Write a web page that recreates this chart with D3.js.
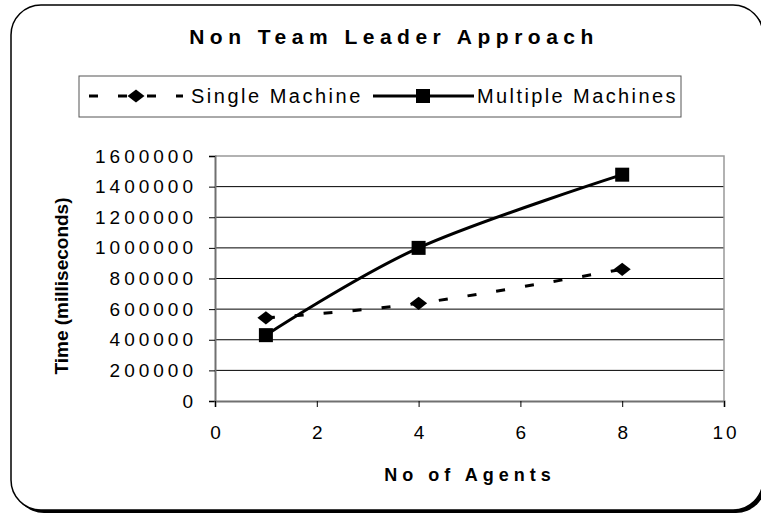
<!DOCTYPE html>
<html>
<head>
    <title>Non Team Leader Approach</title>
    <script src="https://d3js.org/d3.v7.min.js"></script>
    <style>
        body { margin: 0; background: #fff; }
        text { font-family: "Liberation Sans", Arial, sans-serif; fill: #000; }
    </style>
</head>
<body>
    <svg id="chart" width="761" height="517"></svg>

    <script>
        // data
        const agents = [1, 4, 8];
        const singleMachine = [543000, 638000, 860000];
        const multipleMachines = [430000, 1000000, 1478000];
        const xTicks = [0, 2, 4, 6, 8, 10];
        const yTicks = [0, 200000, 400000, 600000, 800000, 1000000, 1200000, 1400000, 1600000];

        const svg = d3.select('#chart');

        // frame with shadow
        svg.append('rect')
            .attr('x', 14).attr('y', 8)
            .attr('width', 752).attr('height', 505)
            .attr('rx', 30).attr('ry', 30)
            .attr('fill', '#000');
        svg.append('rect')
            .attr('x', 11).attr('y', 5)
            .attr('width', 752).attr('height', 505)
            .attr('rx', 30).attr('ry', 30)
            .attr('fill', '#fff')
            .attr('stroke', '#000')
            .attr('stroke-width', 1.5);

        const margin = { left: 215, right: 724, top: 156, bottom: 401 };

        const x = d3.scaleLinear().domain([0, 10]).range([margin.left, margin.right]);
        const y = d3.scaleLinear().domain([0, 1600000]).range([margin.bottom, margin.top]);

        // gridlines
        svg.append('g')
            .selectAll('line')
            .data(yTicks.slice(1, -1))
            .enter()
            .append('line')
            .attr('x1', margin.left).attr('x2', margin.right)
            .attr('y1', d => y(d)).attr('y2', d => y(d))
            .attr('stroke', '#000')
            .attr('stroke-width', 1);

        // plot border (top and right)
        svg.append('path')
            .attr('d', `M${margin.left},${margin.top}H${margin.right}V${margin.bottom}`)
            .attr('fill', 'none')
            .attr('stroke', '#999')
            .attr('stroke-width', 1.5);

        // axes
        const yAxis = svg.append('g')
            .attr('transform', `translate(${margin.left},0)`)
            .call(d3.axisLeft(y).tickValues(yTicks).tickSize(6).tickPadding(12).tickFormat(d3.format('d')));
        const xAxis = svg.append('g')
            .attr('transform', `translate(0,${margin.bottom})`)
            .call(d3.axisBottom(x).tickValues(xTicks).tickSize(6).tickPadding(19));

        [yAxis, xAxis].forEach(g => {
            g.select('.domain').attr('stroke', '#707070').attr('stroke-width', 2);
            g.selectAll('.tick line').attr('stroke', '#000');
            g.selectAll('.tick text')
                .style('font-family', '"Liberation Sans", Arial, sans-serif')
                .style('font-size', '19px')
                .attr('fill', '#000');
        });
        yAxis.selectAll('.tick text').style('letter-spacing', '4px');
        xAxis.selectAll('.tick text').style('letter-spacing', '3px').attr('dx', '1.5');

        // series
        const lineGen = d3.line()
            .x(d => x(d[0]))
            .y(d => y(d[1]))
            .curve(d3.curveCardinal.tension(0));

        const singleData = agents.map((a, i) => [a, singleMachine[i]]);
        const multiData = agents.map((a, i) => [a, multipleMachines[i]]);

        svg.append('path')
            .datum(singleData)
            .attr('d', lineGen)
            .attr('fill', 'none')
            .attr('stroke', '#000')
            .attr('stroke-width', 3)
            .attr('stroke-dasharray', '9,20');

        svg.append('path')
            .datum(multiData)
            .attr('d', lineGen)
            .attr('fill', 'none')
            .attr('stroke', '#000')
            .attr('stroke-width', 3);

        const diamond = d3.symbol().type(d3.symbolSquare).size(120);
        svg.selectAll('.diamond')
            .data(singleData)
            .enter()
            .append('path')
            .attr('class', 'diamond')
            .attr('d', diamond)
            .attr('transform', d => `translate(${x(d[0])},${y(d[1])}) scale(1.1,0.85) rotate(45)`)
            .attr('fill', '#000');

        svg.selectAll('.square')
            .data(multiData)
            .enter()
            .append('rect')
            .attr('class', 'square')
            .attr('x', d => x(d[0]) - 7)
            .attr('y', d => y(d[1]) - 7)
            .attr('width', 14).attr('height', 14)
            .attr('fill', '#000');

        // title and axis titles
        svg.append('text')
            .attr('x', 394).attr('y', 44)
            .attr('text-anchor', 'middle')
            .style('font-size', '21px')
            .style('font-weight', 'bold')
            .style('letter-spacing', '5.5px')
            .text('Non Team Leader Approach');

        svg.append('text')
            .attr('x', 470).attr('y', 481)
            .attr('text-anchor', 'middle')
            .style('font-size', '18px')
            .style('font-weight', 'bold')
            .style('letter-spacing', '5px')
            .text('No of Agents');

        svg.append('text')
            .attr('transform', 'translate(68,286) rotate(-90)')
            .attr('text-anchor', 'middle')
            .style('font-size', '19px')
            .style('font-weight', 'bold')
            .text('Time (milliseconds)');

        // legend
        const legend = svg.append('g');
        legend.append('rect')
            .attr('x', 79).attr('y', 76)
            .attr('width', 602).attr('height', 41)
            .attr('fill', '#fff')
            .attr('stroke', '#555')
            .attr('stroke-width', 1);

        const ly = 96;
        legend.append('line')
            .attr('x1', 89).attr('x2', 183)
            .attr('y1', ly).attr('y2', ly)
            .attr('stroke', '#000')
            .attr('stroke-width', 3)
            .attr('stroke-dasharray', '9,20');
        legend.append('path')
            .attr('d', diamond)
            .attr('transform', `translate(136,${ly}) scale(1.1,0.85) rotate(45)`)
            .attr('fill', '#000');
        legend.append('text')
            .attr('x', 191).attr('y', ly + 7)
            .style('font-size', '20px')
            .style('letter-spacing', '2.5px')
            .text('Single Machine');

        legend.append('line')
            .attr('x1', 373).attr('x2', 474)
            .attr('y1', ly).attr('y2', ly)
            .attr('stroke', '#000')
            .attr('stroke-width', 3);
        legend.append('rect')
            .attr('x', 416).attr('y', ly - 7)
            .attr('width', 14).attr('height', 14)
            .attr('fill', '#000');
        legend.append('text')
            .attr('x', 477).attr('y', ly + 7)
            .style('font-size', '20px')
            .style('letter-spacing', '2.4px')
            .text('Multiple Machines');
    </script>
</body>
</html>
